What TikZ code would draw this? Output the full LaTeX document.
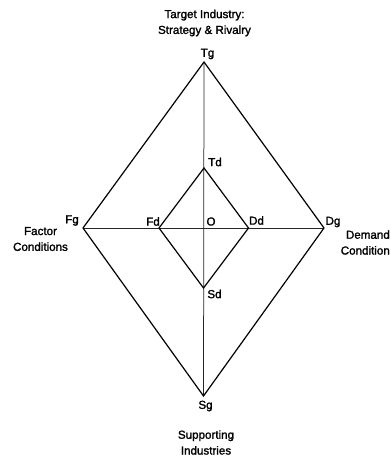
\documentclass[tikz,border=0pt]{standalone}
\usepackage{fontspec}
\setmainfont{Liberation Sans}[FakeBold=1.6]
\begin{document}
\begin{tikzpicture}[x=1bp,y=-1bp,
  diamond line/.style={line width=1.2bp,line join=miter,black},
  axis line/.style={line width=0.75bp,black!85},
  vlabel/.style={inner sep=0pt,font=\fontsize{11.6bp}{15.5bp}\selectfont},
  force/.style={inner sep=0pt,align=center,font=\fontsize{11.6bp}{15.8bp}\selectfont}]
  \useasboundingbox (0,0) rectangle (390,457);

  % outer diamond vertices
  \coordinate (Tg) at (204,62);
  \coordinate (Fg) at (83,228);
  \coordinate (Dg) at (324,228);
  \coordinate (Sg) at (203.5,396);
  % inner diamond vertices
  \coordinate (Td) at (204,168);
  \coordinate (Fd) at (159,228);
  \coordinate (Dd) at (248.5,228);
  \coordinate (Sd) at (203.5,288);

  % axes through the centre
  \draw[axis line] (Tg) -- (Sg);
  \draw[axis line] (Fg) -- (Dg);

  % diamonds
  \draw[diamond line] (Tg) -- (Dg) -- (Sg) -- (Fg) -- cycle;
  \draw[diamond line] (Td) -- (Dd) -- (Sd) -- (Fd) -- cycle;

  % vertex labels
  \node[vlabel] (lTg) at (207.5,54) {Tg};
  \node[vlabel] (lFg) at (72,220.5) {Fg};
  \node[vlabel] (lDg) at (333,222) {Dg};
  \node[vlabel] (lSg) at (205.5,406) {Sg};
  \node[vlabel] (lTd) at (215,162) {Td};
  \node[vlabel] (lFd) at (153,221.5) {Fd};
  \node[vlabel] (lDd) at (256.5,220.5) {Dd};
  \node[vlabel] (lSd) at (214.5,294) {Sd};
  \node[vlabel] (lO)  at (211,221.5) {O};

  % the four determinants
  \node[force] (target) at (204.5,23) {Target Industry:\\Strategy \& Rivalry};
  \node[force] (factor) at (40.5,239) {Factor\\Conditions};
  \node[force,align=right,anchor=east] (demand) at (390,242.5) {Demand\\Condition};
  \node[force] (support) at (206,442.5) {Supporting\\Industries};
\end{tikzpicture}
\end{document}
